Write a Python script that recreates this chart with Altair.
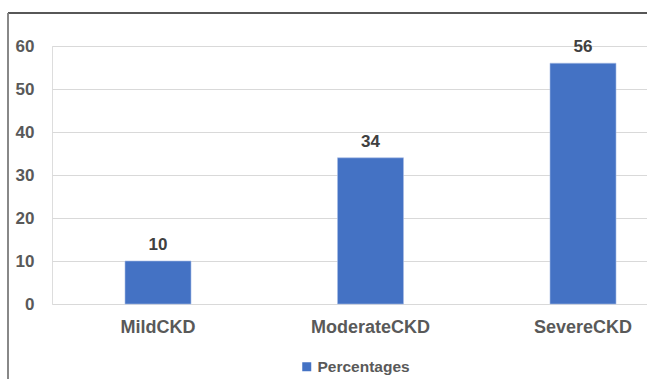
import altair as alt
import pandas as pd

categories = ["MildCKD", "ModerateCKD", "SevereCKD"]
values = [10, 34, 56]
series = ["Percentages", "Percentages", "Percentages"]
y_ticks = [0, 10, 20, 30, 40, 50, 60]

df = pd.DataFrame({"category": categories, "value": values, "series": series})

FONT = "Liberation Sans"
GRAY = "#595959"

x_enc = alt.X(
    "category:N",
    sort=categories,
    title=None,
    scale=alt.Scale(paddingInner=0.6894, paddingOuter=0.2447, align=0.702),
    axis=alt.Axis(
        labelAngle=0, labelFont=FONT, labelFontSize=18, labelFontWeight="bold",
        labelColor=GRAY, labelPadding=14, ticks=False, domain=False, grid=False,
    ),
)
y_enc = alt.Y(
    "value:Q",
    title=None,
    scale=alt.Scale(domain=[0, 60], nice=False),
    axis=alt.Axis(
        values=y_ticks, labelFont=FONT, labelFontSize=17, labelFontWeight="bold",
        labelColor=GRAY, labelPadding=18, ticks=False, domain=False,
        grid=True, gridColor="#d9d9d9", gridWidth=1,
    ),
)

base = alt.Chart(df)

bars = base.mark_bar(stroke="#a9bde6", strokeWidth=0.6).encode(
    x=x_enc,
    y=y_enc,
    color=alt.Color(
        "series:N", title=None,
        scale=alt.Scale(range=["#4472C4"]),
        legend=alt.Legend(
            orient="none", legendX=247, legendY=313, padding=0,
            symbolType="square", symbolSize=81, symbolStrokeWidth=0,
            labelFont=FONT, labelFontSize=15.5, labelFontWeight="bold",
            labelColor=GRAY, labelOffset=3,
        ),
    ),
)

labels = base.mark_text(
    font=FONT, fontSize=17, fontWeight="bold", color="#404040",
    baseline="alphabetic", dy=-11,
).encode(x=alt.X("category:N", sort=categories), y="value:Q", text="value:Q")

top_border = alt.Chart(df).mark_rule(color="#404040", strokeWidth=1.2).encode(
    x=alt.value(-44), x2=alt.value(600), y=alt.value(-33)
)
left_border = alt.Chart(df).mark_rule(color="#808080", strokeWidth=1.2).encode(
    x=alt.value(-44), y=alt.value(-33), y2=alt.value(340)
)

chart = alt.layer(bars, labels, top_border, left_border).properties(
    width=595, height=258,
    autosize=alt.AutoSizeParams(type="none"),
    padding={"left": 52, "top": 46, "right": 0, "bottom": 75},
).configure_view(stroke=None).configure(background="white")

chart.save("out.html", embed_options={"renderer": "svg", "actions": False})
